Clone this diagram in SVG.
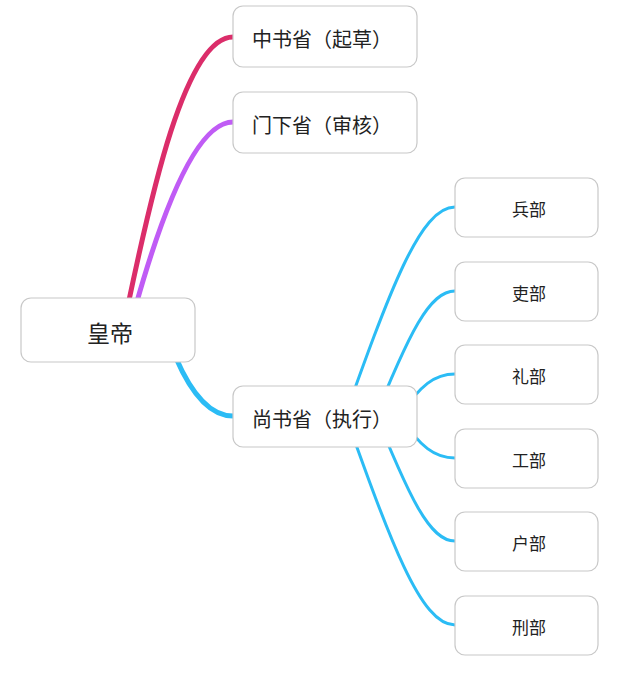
<svg xmlns="http://www.w3.org/2000/svg" width="640" height="677" viewBox="0 0 640 677">
<style>
.n rect{fill:#fff;stroke:#c8c8c8;stroke-width:1.2}
.n text{font-family:"Noto Sans CJK SC","Noto Sans",sans-serif;fill:#222;text-anchor:middle;dominant-baseline:central}
.l1 text{font-size:20px}
.l2 text{font-size:17px}
#edges path{fill:none;stroke-linecap:round}
</style>
<rect width="640" height="677" fill="#fff"/>
<g id="edges">
<path d="M128,305 C150,200 185,37 233,37" stroke="#db2d6a" stroke-width="5"/>
<path d="M136,305 C160,220 195,122 233,122" stroke="#c05cf5" stroke-width="5"/>
<path d="M176,358 C192,395 210,416 233,416" stroke="#2bbcf5" stroke-width="5"/>
<g stroke="#2bbcf5" stroke-width="3">
<path d="M340,430 C390,290 420,207 455,207" fill="none"/>
<path d="M370,430 C410,330 430,291 455,291" fill="none"/>
<path d="M400,416 C420,385 435,374 455,374" fill="none"/>
<path d="M400,416 C420,447 435,458 455,458" fill="none"/>
<path d="M370,400 C410,500 430,541 455,541" fill="none"/>
<path d="M340,400 C390,540 420,625 455,625" fill="none"/>
</g>
</g>
<g id="root" class="n"><rect x="21" y="298" width="174" height="64" rx="10"/><text x="110" y="332" font-size="23">皇帝</text></g>
<g id="zhongshu" class="n l1"><rect x="233" y="6" width="184" height="61" rx="10"/><text x="322" y="38">中书省（起草）</text></g>
<g id="menxia" class="n l1"><rect x="233" y="92" width="184" height="61" rx="10"/><text x="322" y="124">门下省（审核）</text></g>
<g id="shangshu" class="n l1"><rect x="233" y="386" width="184" height="61" rx="10"/><text x="322" y="418">尚书省（执行）</text></g>
<g id="bing" class="n l2"><rect x="455" y="178" width="143" height="59" rx="10"/><text x="529" y="208">兵部</text></g>
<g id="li" class="n l2"><rect x="455" y="262" width="143" height="59" rx="10"/><text x="529" y="292">吏部</text></g>
<g id="li2" class="n l2"><rect x="455" y="345" width="143" height="59" rx="10"/><text x="529" y="375">礼部</text></g>
<g id="gong" class="n l2"><rect x="455" y="429" width="143" height="59" rx="10"/><text x="529" y="459">工部</text></g>
<g id="hu" class="n l2"><rect x="455" y="512" width="143" height="59" rx="10"/><text x="529" y="542">户部</text></g>
<g id="xing" class="n l2"><rect x="455" y="596" width="143" height="59" rx="10"/><text x="529" y="626">刑部</text></g>
</svg>
